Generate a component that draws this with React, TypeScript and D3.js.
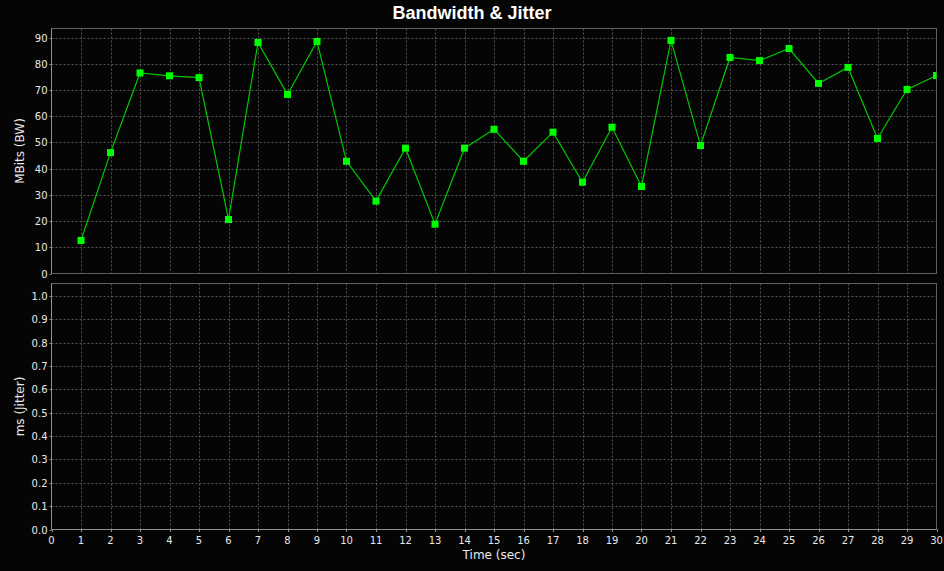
import React, { useEffect, useRef } from "react";
import * as d3 from "d3";

const seconds = d3.range(1, 31);
const bandwidth = [
  12.6, 46.1, 76.5, 75.4, 74.7, 20.6, 88.1, 68.3, 88.5, 42.8,
  27.6, 47.8, 18.8, 47.8, 55.0, 42.8, 53.9, 34.8, 55.8, 33.2,
  88.9, 48.8, 82.4, 81.2, 85.8, 72.5, 78.6, 51.5, 70.2, 75.5,
];
const xTicks = d3.range(0, 31);
const bwTicks = [0, 10, 20, 30, 40, 50, 60, 70, 80, 90];
const jitterTicks = [0, 0.1, 0.2, 0.3, 0.4, 0.5, 0.6, 0.7, 0.8, 0.9, 1.0];

const W = 944;
const H = 571;

const App: React.FC = () => {
  const ref = useRef<SVGSVGElement | null>(null);

  useEffect(() => {
    if (!ref.current) return;
    const svg = d3.select(ref.current);
    svg.selectAll("*").remove();

    const left = 51.5;
    const right = 936.5;
    const font = "'DejaVu Sans', sans-serif";

    svg.append("rect").attr("width", W).attr("height", H).attr("fill", "#050505");

    // title is centred on the whole chart, not the plot
    svg
      .append("text")
      .attr("x", W / 2)
      .attr("y", 19)
      .attr("text-anchor", "middle")
      .attr("fill", "#ffffff")
      .style("font-family", "'Liberation Sans', Arial, sans-serif")
      .style("font-weight", "bold")
      .style("font-size", "18px")
      .text("Bandwidth & Jitter");

    const x = d3.scaleLinear().domain([0, 30]).range([left, right]);

    // draws one plot panel: grid, outline, y axis
    const panel = (
      top: number,
      bottom: number,
      yMax: number,
      ticks: number[],
      fmt: (v: number) => string,
      label: string
    ) => {
      const y = d3.scaleLinear().domain([0, yMax]).range([bottom, top]);
      const g = svg.append("g");

      g.selectAll("line.vgrid")
        .data(xTicks.slice(1, -1))
        .enter()
        .append("line")
        .attr("x1", (d) => Math.round(x(d)) + 0.5)
        .attr("x2", (d) => Math.round(x(d)) + 0.5)
        .attr("y1", top)
        .attr("y2", bottom)
        .attr("stroke", "#555")
        .attr("stroke-dasharray", "2,2");

      g.selectAll("line.hgrid")
        .data(ticks.slice(1))
        .enter()
        .append("line")
        .attr("x1", left)
        .attr("x2", right)
        .attr("y1", (d) => Math.round(y(d)) + 0.5)
        .attr("y2", (d) => Math.round(y(d)) + 0.5)
        .attr("stroke", "#555")
        .attr("stroke-dasharray", "2,2");

      g.append("rect")
        .attr("x", left)
        .attr("y", top)
        .attr("width", right - left)
        .attr("height", bottom - top)
        .attr("fill", "none")
        .attr("stroke", "#606060");

      g.append("line")
        .attr("x1", left)
        .attr("x2", left)
        .attr("y1", top)
        .attr("y2", bottom)
        .attr("stroke", "#909090");

      g.selectAll("line.ytick")
        .data(ticks)
        .enter()
        .append("line")
        .attr("x1", left - 2)
        .attr("x2", left)
        .attr("y1", (d) => Math.round(y(d)) + 0.5)
        .attr("y2", (d) => Math.round(y(d)) + 0.5)
        .attr("stroke", "#909090");

      g.selectAll("text.ytick")
        .data(ticks)
        .enter()
        .append("text")
        .attr("x", left - 4)
        .attr("y", (d) => y(d) + 4)
        .attr("text-anchor", "end")
        .attr("fill", "#e8e8e8")
        .style("font-family", font)
        .style("font-size", "10px")
        .text((d) => fmt(d));

      g.append("text")
        .attr("transform", `translate(24, ${(top + bottom) / 2}) rotate(-90)`)
        .attr("text-anchor", "middle")
        .attr("fill", "#e8e8e8")
        .style("font-family", font)
        .style("font-size", "12px")
        .text(label);

      return y;
    };

    const yBw = panel(28.5, 273.5, 93.44, bwTicks, (v) => String(v), "MBits (BW)");
    panel(283.5, 529.5, 1.053, jitterTicks, (v) => v.toFixed(1), "ms (Jitter)");

    // x axis at the bottom panel
    svg
      .append("line")
      .attr("x1", left)
      .attr("x2", right)
      .attr("y1", 529.5)
      .attr("y2", 529.5)
      .attr("stroke", "#909090");

    svg
      .selectAll("line.xtick")
      .data(xTicks)
      .enter()
      .append("line")
      .attr("x1", (d) => Math.round(x(d)) + 0.5)
      .attr("x2", (d) => Math.round(x(d)) + 0.5)
      .attr("y1", 529.5)
      .attr("y2", 532)
      .attr("stroke", "#909090");

    svg
      .selectAll("text.xtick")
      .data(xTicks)
      .enter()
      .append("text")
      .attr("x", (d) => x(d))
      .attr("y", 543.5)
      .attr("text-anchor", "middle")
      .attr("fill", "#e8e8e8")
      .style("font-family", font)
      .style("font-size", "10px")
      .text((d) => String(d));

    svg
      .append("text")
      .attr("x", (left + right) / 2)
      .attr("y", 559)
      .attr("text-anchor", "middle")
      .attr("fill", "#e8e8e8")
      .style("font-family", font)
      .style("font-size", "12px")
      .text("Time (sec)");

    // bandwidth series
    const clip = svg.append("clipPath").attr("id", "bwclip");
    clip
      .append("rect")
      .attr("x", left)
      .attr("y", 28.5)
      .attr("width", right - left)
      .attr("height", 245);

    const series = svg.append("g").attr("clip-path", "url(#bwclip)");
    const line = d3
      .line<number>()
      .x((_, i) => x(seconds[i]))
      .y((d) => yBw(d));

    series
      .append("path")
      .datum(bandwidth)
      .attr("d", line)
      .attr("fill", "none")
      .attr("stroke", "#00c800")
      .attr("stroke-width", 1.2);

    series
      .selectAll("rect.pt")
      .data(bandwidth)
      .enter()
      .append("rect")
      .attr("x", (_, i) => x(seconds[i]) - 3.5)
      .attr("y", (d) => yBw(d) - 3.5)
      .attr("width", 7)
      .attr("height", 7)
      .attr("fill", "#00ff00");
  }, []);

  return (
    <div style={{ position: "fixed", left: 0, top: 0, width: W, height: H }}>
      <svg ref={ref} width={W} height={H} style={{ display: "block" }}></svg>
    </div>
  );
};

export default App;
